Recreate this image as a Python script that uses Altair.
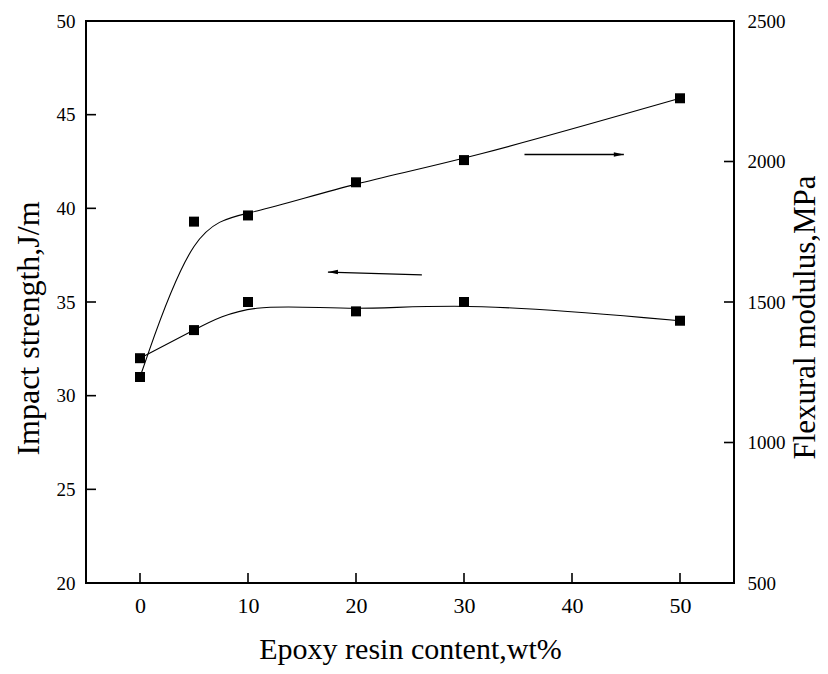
import altair as alt
import pandas as pd

# ---- data ----
epoxy = [0, 5, 10, 20, 30, 50]
impact = [32.0, 33.5, 35.0, 34.5, 35.0, 34.0]
flexural = [1233, 1786, 1808, 1926, 2005, 2225]

x_ticks = [0, 10, 20, 30, 40, 50]
impact_ticks = [20, 25, 30, 35, 40, 45, 50]
flex_ticks = [500, 1000, 1500, 2000, 2500]

x_domain = [-5, 55]
impact_domain = [20, 50]
flex_domain = [500, 2500]

# arrows (annotation): tail -> tip
impact_arrow_x = [26.1, 17.4]
impact_arrow_y = [36.45, 36.6]
flex_arrow_x = [35.6, 44.8]
flex_arrow_y = [2025, 2025]

FONT = "Liberation Serif"

df = pd.DataFrame({"x": epoxy, "impact": impact, "flex": flexural})

xs = alt.Scale(domain=x_domain, nice=False, zero=False)
ys_l = alt.Scale(domain=impact_domain, nice=False, zero=False)
ys_r = alt.Scale(domain=flex_domain, nice=False, zero=False)

x_axis = alt.Axis(
    values=x_ticks, ticks=False, domain=False, grid=False, format="d",
    labelFont=FONT, labelFontSize=22, labelColor="black", labelPadding=12,
    title="Epoxy resin content,wt%", titleFont=FONT, titleFontSize=30,
    titleFontWeight="normal", titleColor="black", titleY=66, titleBaseline="middle",
)
left_axis = alt.Axis(
    values=impact_ticks, ticks=False, domain=False, grid=False, format="d",
    labelFont=FONT, labelFontSize=19, labelColor="black", labelPadding=11,
    title="Impact strength,J/m", titleFont=FONT, titleFontSize=32,
    titleFontWeight="normal", titleColor="black",
    titleAngle=270, titleX=-58, titleY=307, titleBaseline="middle",
)
right_axis = alt.Axis(
    orient="right", values=flex_ticks, ticks=False, domain=False, grid=False, format="d",
    labelFont=FONT, labelFontSize=19, labelColor="black", labelPadding=13,
    title="Flexural modulus,MPa", titleFont=FONT, titleFontSize=31,
    titleFontWeight="normal", titleColor="black",
    titleAngle=270, titleX=71, titleY=296, titleBaseline="middle",
)


def X(field="x:Q"):
    return alt.X(field, scale=xs, axis=x_axis)


def YL(field):
    return alt.Y(field, scale=ys_l, axis=left_axis)


def YR(field):
    return alt.Y(field, scale=ys_r, axis=right_axis)


# ---- left (impact) group ----
imp_line = alt.Chart(df).mark_line(interpolate="basis", color="black", strokeWidth=1.1).encode(
    x=X(), y=YL("impact:Q")
)
imp_pts = alt.Chart(df).mark_point(shape="square", filled=True, size=100, color="black", opacity=1).encode(
    x=X(), y=YL("impact:Q")
)

xt = pd.DataFrame({"x": x_ticks, "impact": [impact_domain[0]] * len(x_ticks)})
x_tick_marks = alt.Chart(xt).mark_rule(color="black", strokeWidth=1.6, y2Offset=-10).encode(
    x=X(), y=YL("impact:Q"), y2="impact:Q"
)
lt = pd.DataFrame({"impact": impact_ticks[1:-1], "x": [x_domain[0]] * (len(impact_ticks) - 2)})
l_tick_marks = alt.Chart(lt).mark_rule(color="black", strokeWidth=1.6, x2Offset=10).encode(
    x=X(), x2="x:Q", y=YL("impact:Q")
)

ia = pd.DataFrame({"x": impact_arrow_x, "impact": impact_arrow_y})
imp_arrow = alt.Chart(ia).mark_line(color="black", strokeWidth=1.3).encode(x=X(), y=YL("impact:Q"))
imp_head = alt.Chart(ia.iloc[[1]]).mark_point(
    shape="M-1,0L1,-0.45L1,0.45Z", filled=True, size=100, color="black", opacity=1, xOffset=5
).encode(x=X(), y=YL("impact:Q"))

left_group = alt.layer(imp_line, imp_pts, x_tick_marks, l_tick_marks, imp_arrow, imp_head)

# ---- right (flexural) group ----
flex_line = alt.Chart(df).mark_line(interpolate="basis", color="black", strokeWidth=1.1).encode(
    x=X(), y=YR("flex:Q")
)
flex_pts = alt.Chart(df).mark_point(shape="square", filled=True, size=100, color="black", opacity=1).encode(
    x=X(), y=YR("flex:Q")
)
rt = pd.DataFrame({"flex": flex_ticks[1:-1], "x": [x_domain[1]] * (len(flex_ticks) - 2)})
r_tick_marks = alt.Chart(rt).mark_rule(color="black", strokeWidth=1.6, x2Offset=-10).encode(
    x=X(), x2="x:Q", y=YR("flex:Q")
)
fa = pd.DataFrame({"x": flex_arrow_x, "flex": flex_arrow_y})
flex_arrow = alt.Chart(fa).mark_line(color="black", strokeWidth=1.3).encode(x=X(), y=YR("flex:Q"))
flex_head = alt.Chart(fa.iloc[[1]]).mark_point(
    shape="M1,0L-1,-0.45L-1,0.45Z", filled=True, size=100, color="black", opacity=1, xOffset=-5
).encode(x=X(), y=YR("flex:Q"))

right_group = alt.layer(flex_line, flex_pts, r_tick_marks, flex_arrow, flex_head)

chart = (
    alt.layer(left_group, right_group)
    .resolve_scale(y="independent")
    .properties(
        width=648,
        height=562,
        autosize=alt.AutoSizeParams(type="none"),
        padding={"left": 78, "top": 13, "right": 86, "bottom": 83},
        background="white",
    )
    .configure_view(stroke="black", strokeWidth=2)
    .configure_axis(labelFont=FONT, titleFont=FONT, labelColor="black", titleColor="black")
)

chart.save("out.html", embed_options={"renderer": "svg", "actions": False})
